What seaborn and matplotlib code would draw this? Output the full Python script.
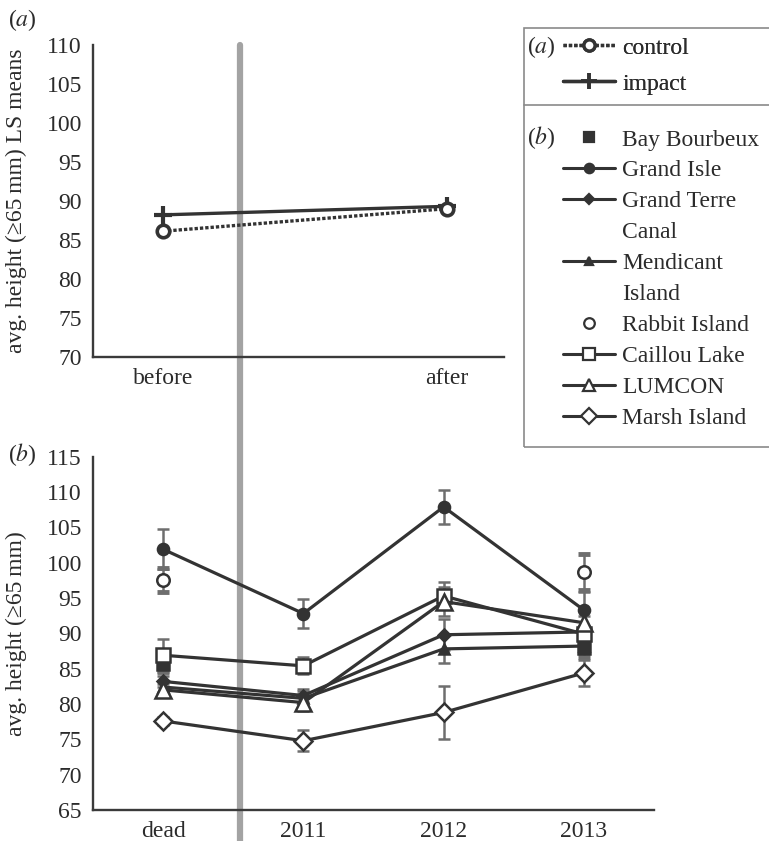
import numpy as np
import pandas as pd
import matplotlib
matplotlib.use("Agg")
import matplotlib.pyplot as plt
import seaborn as sns
from matplotlib.lines import Line2D
from matplotlib.patches import Rectangle

sns.set_theme(style="white")
plt.rcParams['font.family'] = ['Liberation Serif', 'DejaVu Serif']
plt.rcParams['mathtext.fontset'] = 'stix'
TXT = '#2b2b2b'
plt.rcParams['text.color'] = TXT
plt.rcParams['axes.labelcolor'] = TXT
plt.rcParams['xtick.color'] = TXT
plt.rcParams['ytick.color'] = TXT

# ---------------- data ----------------
periods = ["before", "after"]
control = [86.1, 89.0]
impact = [88.2, 89.3]

years = ["dead", "2011", "2012", "2013"]
bay_bourbeux = [85.6, np.nan, np.nan, 87.9]
bay_bourbeux_se = [1.0, np.nan, np.nan, 1.3]
grand_isle = [101.9, 92.8, 107.9, 93.3]
grand_isle_se = [2.8, 2.1, 2.4, 2.6]
grand_terre = [83.2, 81.2, 89.8, 90.2]
grand_terre_se = [0.8, 0.9, 2.2, 0.8]
mendicant = [82.4, 80.8, 87.8, 88.2]
mendicant_se = [0.8, 1.0, 2.0, 0.8]
rabbit = [97.5, np.nan, np.nan, 98.7]
rabbit_se = [1.7, np.nan, np.nan, 2.5]
caillou = [86.9, 85.4, 95.3, 89.9]
caillou_se = [2.3, 1.2, 1.9, 1.0]
lumcon = [82.0, 80.2, 94.5, 91.5]
lumcon_se = [0.8, 1.2, 2.1, 1.0]
marsh = [77.6, 74.8, 78.8, 84.4]
marsh_se = [0.5, 1.5, 3.7, 1.8]

LC = '#333333'
EC = '#6e6e6e'

sites = [
    ("Bay Bourbeux", bay_bourbeux, bay_bourbeux_se, dict(marker='s', ms=8, mfc=LC, line=False)),
    ("Grand Isle", grand_isle, grand_isle_se, dict(marker='o', ms=8, mfc=LC, line=True)),
    ("Grand Terre Canal", grand_terre, grand_terre_se, dict(marker='D', ms=6, mfc=LC, line=True)),
    ("Mendicant Island", mendicant, mendicant_se, dict(marker='^', ms=7, mfc=LC, line=True)),
    ("Rabbit Island", rabbit, rabbit_se, dict(marker='o', ms=9, mfc='white', line=False)),
    ("Caillou Lake", caillou, caillou_se, dict(marker='s', ms=10, mfc='white', line=True)),
    ("LUMCON", lumcon, lumcon_se, dict(marker='^', ms=11, mfc='white', line=True)),
    ("Marsh Island", marsh, marsh_se, dict(marker='D', ms=9, mfc='white', line=True)),
]

W, H = 769, 841
fig = plt.figure(figsize=(W / 100, H / 100), dpi=100)

def fx(px):
    return px / W

def fy(py):
    return 1 - py / H

axA = fig.add_axes([fx(93), fy(356.7), fx(504) - fx(93), fy(45) - fy(356.7)])
axB = fig.add_axes([fx(93), fy(810), fx(654) - fx(93), fy(456.7) - fy(810)])

# ---------------- panel a ----------------
dfa = pd.DataFrame({"x": np.arange(len(periods)), "control": control, "impact": impact})
sns.lineplot(data=dfa, x="x", y="impact", ax=axA, color=LC, lw=2.4, marker='+', ms=13,
             mew=3, mec=LC, errorbar=None, zorder=3)
sns.lineplot(data=dfa, x="x", y="control", ax=axA, color=LC, lw=2.4, ls=(0, (1, 0.6)),
             marker='o', ms=9, mew=2.6, mfc='white', mec=LC, errorbar=None, zorder=4)
axA.set_xlim(-0.245, 1.2)
axA.set_ylim(70, 110)
axA.set_yticks(np.arange(70, 111, 5))
axA.set_xticks(range(len(periods)))
axA.set_xticklabels(periods)
axA.set_xlabel("")
axA.set_ylabel("avg. height (\u226565\u2009mm) LS means", fontsize=17)
axA.yaxis.set_label_coords((27 - 93) / 411, 0.5)

# ---------------- panel b ----------------
xb = np.arange(len(years))
for name, vals, se, st in sites:
    df = pd.DataFrame({"x": xb, "y": vals, "se": se}).dropna()
    axB.errorbar(df["x"], df["y"], yerr=df["se"], fmt='none', ecolor=EC, elinewidth=1.8,
                 capsize=4, capthick=1.8 if st['line'] else 3.5, zorder=2)
    if st['line']:
        sns.lineplot(data=df, x="x", y="y", ax=axB, color=LC, lw=2.3, marker=st['marker'],
                     ms=st['ms'], mfc=st['mfc'], mec=LC, mew=1.8, errorbar=None, zorder=3)
    else:
        sns.lineplot(data=df, x="x", y="y", ax=axB, color=LC, lw=0, ls='none',
                     marker=st['marker'], ms=st['ms'], mfc=st['mfc'], mec=LC, mew=1.8,
                     errorbar=None, zorder=3)
axB.set_xlim(-0.5, 3.5)
axB.set_ylim(65, 115)
axB.set_yticks(np.arange(65, 116, 5))
axB.set_xticks(xb)
axB.set_xticklabels(years)
axB.set_xlabel("")
axB.set_ylabel("avg. height (\u226565\u2009mm)", fontsize=17)
axB.yaxis.set_label_coords((27 - 93) / 561, 0.5)

for ax in (axA, axB):
    ax.set_facecolor('none')
    for s in ('top', 'right'):
        ax.spines[s].set_visible(False)
    for s in ('left', 'bottom'):
        ax.spines[s].set_color('#3a3a3a')
        ax.spines[s].set_linewidth(1.7)
    ax.tick_params(axis='both', length=0, labelsize=17, pad=8)

# grey vertical divider through both panels
fig.add_artist(Line2D([fx(240), fx(240)], [fy(45), 0], color='#a3a3a3', lw=4.5, zorder=-1))

# panel labels
fig.text(fx(8), fy(20), r'($\mathit{a}$)', fontsize=17, ha='left', va='center')
fig.text(fx(8), fy(455), r'($\mathit{b}$)', fontsize=17, ha='left', va='center')

# ---------------- legend ----------------
fig.add_artist(Rectangle((fx(524), fy(447)), 1.0, fy(28) - fy(447), transform=fig.transFigure,
                         fill=False, edgecolor='#8a8a8a', lw=1.2))
fig.add_artist(Line2D([fx(524), 1.0], [fy(105), fy(105)], color='#8a8a8a', lw=1.2))

hA = [Line2D([], [], color=LC, lw=2.4, ls=(0, (1, 0.6)), marker='o', ms=8, mew=2.4,
             mfc='white', mec=LC),
      Line2D([], [], color=LC, lw=2.4, marker='+', ms=12, mew=2.6, mec=LC)]
legA = fig.legend(hA, ["control", "impact"], loc='upper left',
                  bbox_to_anchor=(fx(563), fy(37)), frameon=False, fontsize=17,
                  handlelength=2.2, handletextpad=0.3, labelspacing=0.62,
                  borderpad=0, borderaxespad=0)

hB, lB = [], []
blank = Line2D([], [], ls='none', marker=None)
for name, vals, se, st in sites:
    if st['line']:
        h = Line2D([], [], color=LC, lw=2.2, marker=st['marker'], ms=st['ms'] * 0.85,
                   mfc=st['mfc'], mec=LC, mew=1.6)
    else:
        h = Line2D([], [], ls='none', marker=st['marker'], ms=st['ms'] * 0.85,
                   mfc=st['mfc'], mec=LC, mew=1.6)
    if name == "Grand Terre Canal":
        hB += [h, blank]; lB += ["Grand Terre", "Canal"]
    elif name == "Mendicant Island":
        hB += [h, blank]; lB += ["Mendicant", "Island"]
    else:
        hB.append(h); lB.append(name)
legB = fig.legend(hB, lB, loc='upper left', bbox_to_anchor=(fx(563), fy(129)),
                  frameon=False, fontsize=17, handlelength=2.2, handletextpad=0.3,
                  labelspacing=0.40, borderpad=0, borderaxespad=0)
fig.add_artist(legA)

fig.text(fx(527), fy(47), r'($\mathit{a}$)', fontsize=17, ha='left', va='center')
fig.text(fx(527), fy(138), r'($\mathit{b}$)', fontsize=17, ha='left', va='center')

fig.savefig("out.png", dpi=100)
